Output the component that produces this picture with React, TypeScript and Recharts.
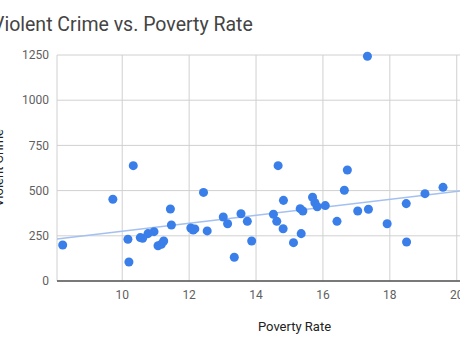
import {
  CartesianGrid,
  ReferenceLine,
  Scatter,
  ScatterChart,
  XAxis,
  YAxis,
} from 'recharts'

// Poverty rate (%) per state
const povertyRate = [
  8.22, 9.72, 10.33, 10.17, 10.2, 10.54, 10.61, 10.77, 10.95, 11.07,
  11.17, 11.24, 11.44, 11.47, 12.05, 12.12, 12.17, 12.43, 12.54, 13.02,
  13.15, 13.35, 13.55, 13.74, 13.87, 14.66, 14.82, 14.52, 14.62, 14.81,
  15.12, 15.35, 15.32, 15.4, 15.69, 15.76, 15.83, 16.07, 16.73, 16.64,
  16.42, 17.04, 17.36, 17.92, 18.49, 18.5, 19.05, 19.59, 17.33,
]

// Violent crime rate per state
const violentCrime = [
  199, 452, 638, 231, 105, 240, 236, 262, 273, 195,
  203, 221, 398, 310, 293, 282, 288, 490, 277, 354,
  317, 131, 372, 330, 221, 638, 446, 369, 330, 289,
  212, 262, 400, 387, 463, 433, 411, 417, 614, 502,
  330, 387, 397, 317, 428, 216, 483, 518, 1243,
]

const xTicks = [10, 12, 14, 16, 18, 20, 22]
const yTicks = [0, 250, 500, 750, 1000, 1250]

// linear trendline endpoints
const trendX = [8.05, 22.25]
const trendY = [232, 546]

const points = povertyRate.map((x, i) => ({ x, y: violentCrime[i] }))

export default function App() {
  return (
    <div
      style={{
        position: 'absolute',
        left: 0,
        top: 0,
        width: 460,
        height: 345,
        overflow: 'hidden',
        background: '#fff',
        fontFamily: 'Roboto, sans-serif',
      }}
    >
      <div
        style={{
          position: 'absolute',
          left: -8,
          top: 15,
          fontSize: 19.5,
          lineHeight: 1,
          color: '#444',
          whiteSpace: 'nowrap',
        }}
      >
        Violent Crime vs. Poverty Rate
      </div>
      <div
        style={{
          position: 'absolute',
          left: -41,
          top: 161,
          width: 80,
          height: 14,
          fontSize: 13,
          lineHeight: '14px',
          color: '#222',
          textAlign: 'center',
          whiteSpace: 'nowrap',
          transform: 'rotate(-90deg)',
        }}
      >
        Violent Crime
      </div>
      <ScatterChart
        width={540}
        height={345}
        margin={{ top: 55, right: 8, left: 0, bottom: 0 }}
        style={{ position: 'absolute', left: 0, top: 0 }}
      >
        <CartesianGrid stroke="#d0d0d0" />
        <XAxis
          type="number"
          dataKey="x"
          domain={[8.05, 22.25]}
          ticks={xTicks}
          height={64}
          tickLine={false}
          tickMargin={3}
          axisLine={{ stroke: '#555', strokeWidth: 1.5 }}
          tick={{ fill: '#5f5f5f', fontSize: 12 }}
          label={{
            value: 'Poverty Rate',
            position: 'insideBottom',
            offset: 14,
            fill: '#222',
            fontSize: 13,
          }}
        />
        <YAxis
          type="number"
          dataKey="y"
          domain={[0, 1250]}
          ticks={yTicks}
          width={57}
          tickLine={false}
          axisLine={false}
          tick={{ fill: '#5f5f5f', fontSize: 12 }}
        />
        <ReferenceLine
          segment={[
            { x: trendX[0], y: trendY[0] },
            { x: trendX[1], y: trendY[1] },
          ]}
          stroke="#a4c0f0"
          strokeWidth={1.5}
        />
        <Scatter
          data={points}
          fill="#3a7ee9"
          shape="circle"
          isAnimationActive={false}
          r={4}
        />
      </ScatterChart>
    </div>
  )
}
